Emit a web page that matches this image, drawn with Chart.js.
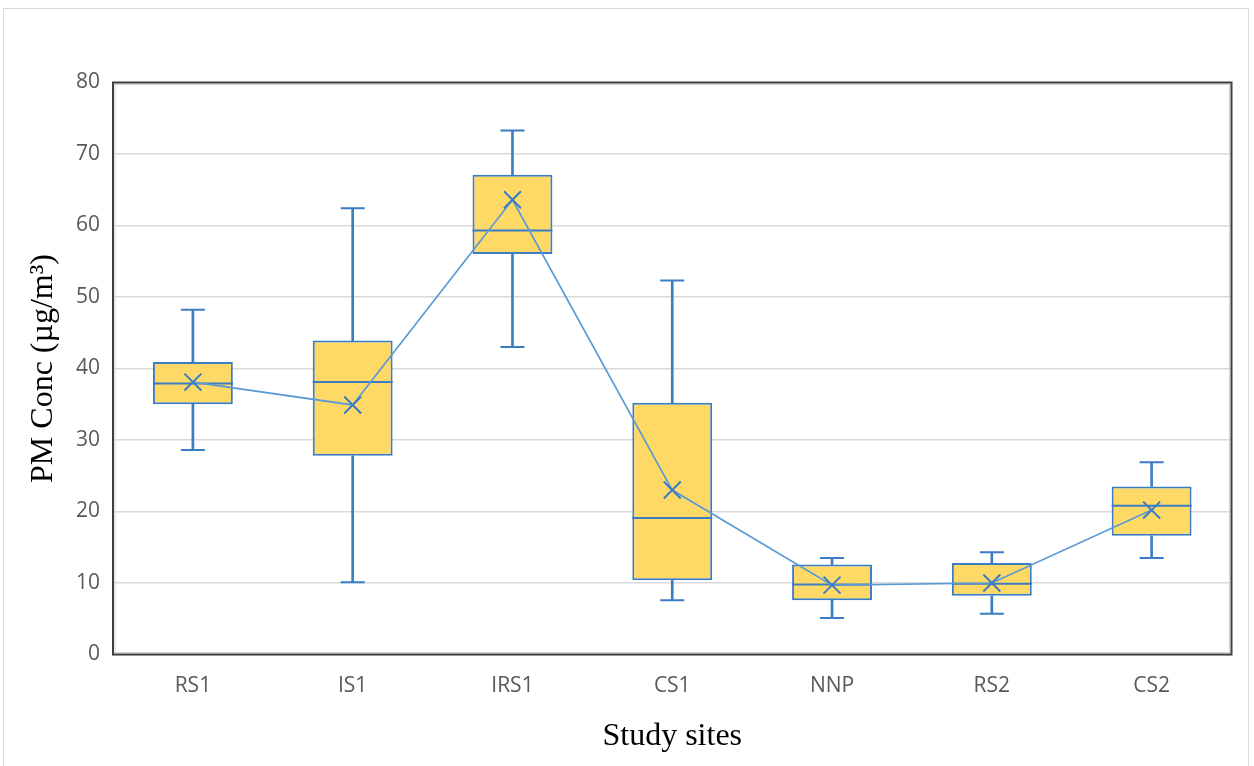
<!DOCTYPE html>
<html>
<head>
<meta charset="utf-8">
<script src="https://cdn.jsdelivr.net/npm/chart.js@4.4.1/dist/chart.umd.min.js"></script>
<style>
  html, body { margin: 0; padding: 0; background: #ffffff; }
  #wrap { position: relative; width: 1254px; height: 766px; overflow: hidden; }
  #frame { position: absolute; left: 3px; top: 8px; width: 1246px; height: 780px; border: 1px solid #d9d9d9; box-sizing: border-box; }
  canvas { position: absolute; left: 0; top: 0; }
</style>
</head>
<body>
<div id="wrap">
  <div id="frame"></div>
  <canvas id="chart" width="1254" height="766"></canvas>
</div>
<script>
// PM concentration summary per study site (µg/m³)
const sites      = ['RS1', 'IS1', 'IRS1', 'CS1', 'NNP', 'RS2', 'CS2'];
const minVals    = [28.6, 10.1, 43.0,  7.6,  5.1,  5.7, 13.5];
const q1Vals     = [35.0, 27.8, 56.0, 10.4,  7.6,  8.2, 16.6];
const medianVals = [37.9, 38.1, 59.3, 19.1,  9.8,  9.9, 20.8];
const q3Vals     = [40.9, 43.9, 67.1, 35.2, 12.6, 12.8, 23.5];
const maxVals    = [48.2, 62.4, 73.3, 52.3, 13.5, 14.3, 26.9];
const meanVals   = [38.1, 34.9, 63.6, 23.0,  9.7, 10.0, 20.2];
const yTicks     = [0, 10, 20, 30, 40, 50, 60, 70, 80];

const BLUE = '#3b7dc4';
const LINE_BLUE = '#5b9bd5';
const GOLD = '#ffd966';

const boxes        = sites.map((_, i) => [q1Vals[i], q3Vals[i]]);
const lowerWhisker = sites.map((_, i) => [minVals[i], q1Vals[i]]);
const upperWhisker = sites.map((_, i) => [q3Vals[i], maxVals[i]]);

// Dark frame around the plotting area
const plotFrame = {
  id: 'plotFrame',
  afterDraw(chart) {
    const { ctx, chartArea: a } = chart;
    ctx.save();
    ctx.strokeStyle = '#d4d4d4';
    ctx.lineWidth = 1;
    ctx.strokeRect(a.left + 2, a.top + 2, a.right - a.left - 4, a.bottom - a.top - 4);
    ctx.strokeStyle = '#3f3f3f';
    ctx.lineWidth = 2;
    ctx.strokeRect(a.left, a.top, a.right - a.left, a.bottom - a.top);
    ctx.restore();
  }
};

new Chart(document.getElementById('chart'), {
  type: 'bar',
  data: {
    labels: sites,
    datasets: [
      {
        label: 'Whisker low',
        data: lowerWhisker,
        backgroundColor: BLUE,
        borderWidth: 0,
        barThickness: 2,
        grouped: false,
        order: 6
      },
      {
        label: 'Whisker high',
        data: upperWhisker,
        backgroundColor: BLUE,
        borderWidth: 0,
        barThickness: 2,
        grouped: false,
        order: 6
      },
      {
        label: 'Interquartile range',
        data: boxes,
        backgroundColor: GOLD,
        borderColor: BLUE,
        borderWidth: 2,
        borderSkipped: false,
        barPercentage: 0.5,
        categoryPercentage: 1,
        grouped: false,
        order: 5
      },
      {
        type: 'line',
        label: 'Minimum',
        data: minVals,
        showLine: false,
        pointStyle: 'line',
        pointRadius: 12,
        pointBorderWidth: 2,
        borderColor: BLUE,
        order: 4
      },
      {
        type: 'line',
        label: 'Maximum',
        data: maxVals,
        showLine: false,
        pointStyle: 'line',
        pointRadius: 12,
        pointBorderWidth: 2,
        borderColor: BLUE,
        order: 4
      },
      {
        type: 'line',
        label: 'Median',
        data: medianVals,
        showLine: false,
        pointStyle: 'line',
        pointRadius: 40,
        pointBorderWidth: 2,
        borderColor: BLUE,
        order: 3
      },
      {
        type: 'line',
        label: 'Mean',
        data: meanVals,
        borderColor: LINE_BLUE,
        borderWidth: 1.7,
        pointStyle: 'crossRot',
        pointRadius: 12,
        pointBorderWidth: 2,
        pointBorderColor: BLUE,
        tension: 0,
        order: 1
      }
    ]
  },
  options: {
    responsive: false,
    animation: false,
    events: [],
    layout: { autoPadding: false, padding: { left: 0, top: 82.5, right: 22.5, bottom: 0 } },
    plugins: {
      legend: { display: false },
      tooltip: { enabled: false }
    },
    scales: {
      x: {
        offset: true,
        grid: { display: false, drawTicks: false },
        border: { display: false },
        ticks: {
          color: '#595959',
          font: { family: "'Open Sans', sans-serif", size: 21 },
          padding: 19
        },
        title: {
          display: true,
          text: 'Study sites',
          color: '#000000',
          font: { family: "'Liberation Serif', 'Times New Roman', serif", size: 32, lineHeight: 1.2 },
          padding: { top: 0, bottom: 10.5 }
        },
        afterFit(scale) { scale.height = 111.5; }
      },
      y: {
        min: 0,
        max: 80,
        afterBuildTicks(scale) { scale.ticks = yTicks.map(v => ({ value: v })); },
        grid: { color: '#d9d9d9', lineWidth: 1.5, drawTicks: false },
        border: { display: false },
        ticks: {
          color: '#595959',
          font: { family: "'Open Sans', sans-serif", size: 21 },
          padding: 13
        },
        title: {
          display: true,
          text: 'PM Conc (µg/m³)',
          color: '#000000',
          font: { family: "'Liberation Serif', 'Times New Roman', serif", size: 32, lineHeight: 1.2 },
          padding: { top: 24.5, bottom: 0 }
        },
        afterFit(scale) { scale.width = 113; }
      }
    }
  },
  plugins: [plotFrame]
});
</script>
</body>
</html>
